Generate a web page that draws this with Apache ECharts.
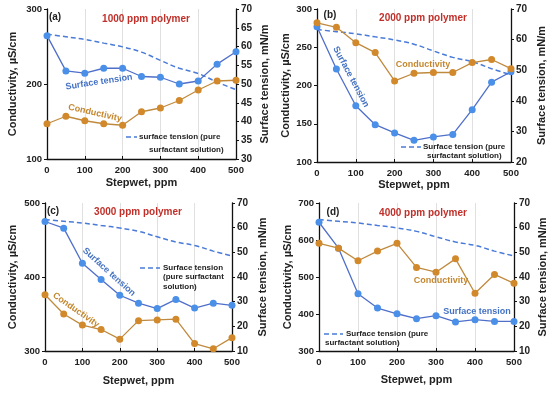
<!DOCTYPE html>
<html><head><meta charset="utf-8">
<script src="https://cdn.jsdelivr.net/npm/echarts@6/dist/echarts.min.js"></script>
<style>html,body{margin:0;padding:0;background:#fff}#c{width:550px;height:394px}</style>
</head><body><div id="c"></div>
<script>
const stepwet = [0,50,100,150,200,250,300,350,400,450,500];
const xTicks = [0,100,200,300,400,500];
const pureST = [63.3,62.6,61.9,60.9,59.9,58.5,56.3,54.2,52.8,50.5,48.5];
const condA = [147,157,151,147,145,163,168,178,192,204,205];
const stA = [62.9,53.5,52.9,54.2,54.2,52.0,51.8,50.0,50.8,55.3,58.6];
const condB = [282,276,256,243,206,216,217,217,230,234,222];
const stB = [64.2,50.4,38.4,32.2,29.5,27.1,28.2,29.0,37.1,46.1,49.5];
const condC = [376,350,335,329,316,341,342,343,310,303,318];
const stC = [62.5,59.8,45.6,39.0,32.6,29.4,27.2,30.9,27.4,29.4,28.5];
const condD = [591,578,544,570,591,526,513,549,456,507,483];
const stD = [62.2,51.7,33.2,27.4,25.1,23.1,24.3,21.8,22.7,22.0,22.0];
const titles = ['1000 ppm polymer','2000 ppm polymer','3000 ppm polymer','4000 ppm polymer'];
const tags = ['(a)','(b)','(c)','(d)'];

const FONT = 'Liberation Sans, Arial, sans-serif';
const BLUE = '#4A8FE8', BLUE_L = '#4F6FCB', ORANGE = '#D1892C', ORANGE_L = '#C08A3E', RED = '#C0302A';

const grids = [
  {left:47, top:9, width:189, height:150},
  {left:317, top:9, width:194, height:153},
  {left:45, top:203, width:187, height:148},
  {left:319, top:203, width:195, height:148}
];
const leftAx = [[100,300,100],[100,300,50],[300,500,100],[300,700,100]];
const rightAx = [[30,70,5],[20,70,10],[10,70,10],[10,70,10]];
const nameGapL = [29,26,27,26], nameGapR = [23,25,25,23], nameGapX = [18,17,24,23];
const conds = [condA,condB,condC,condD], sts = [stA,stB,stC,stD];

const xAxis = [], yAxis = [], series = [];
grids.forEach((g,i)=>{
  xAxis.push({gridIndex:i, type:'value', min:0, max:500, interval:100,
    name:'Stepwet, ppm', nameLocation:'middle', nameGap:nameGapX[i],
    nameTextStyle:{fontFamily:FONT, fontWeight:'bold', fontSize:11, color:'#222'},
    axisLine:{lineStyle:{color:'#111', width:1.3}},
    axisTick:{inside:true, length:3, lineStyle:{color:'#111'}},
    axisLabel:{fontFamily:FONT, fontWeight:'bold', fontSize:9.5, color:'#222', margin:6},
    splitLine:{show:true, lineStyle:{color:'#e0e0e0', width:1}}});
  yAxis.push({gridIndex:i, type:'value', position:'left', min:leftAx[i][0], max:leftAx[i][1], interval:leftAx[i][2],
    name:'Conductivity, µS/cm', nameLocation:'middle', nameGap:nameGapL[i],
    nameTextStyle:{fontFamily:FONT, fontWeight:'bold', fontSize:11, color:'#222'},
    axisLine:{show:true, lineStyle:{color:'#111', width:1.3}},
    axisTick:{show:true, length:3, lineStyle:{color:'#111'}},
    axisLabel:{fontFamily:FONT, fontWeight:'bold', fontSize:9.5, color:'#222', margin:5},
    splitLine:{show:false}});
  yAxis.push({gridIndex:i, type:'value', position:'right', min:rightAx[i][0], max:rightAx[i][1], interval:rightAx[i][2],
    name:'Surface tension, mN/m', nameLocation:'middle', nameGap:nameGapR[i],
    nameTextStyle:{fontFamily:FONT, fontWeight:'bold', fontSize:11, color:'#222'},
    axisLine:{show:true, lineStyle:{color:'#111', width:1.3}},
    axisTick:{show:true, length:3, lineStyle:{color:'#111'}},
    axisLabel:{fontFamily:FONT, fontWeight:'bold', fontSize:10, color:'#222', margin:5},
    splitLine:{show:false}});
  series.push({type:'line', xAxisIndex:i, yAxisIndex:2*i+1, data:stepwet.map((x,k)=>[x,pureST[k]]),
    smooth:0.4, showSymbol:false, symbol:'none', lineStyle:{color:'#4A7BD8', width:1.5, type:[5,3]}, z:1});
  series.push({type:'line', xAxisIndex:i, yAxisIndex:2*i+1, data:stepwet.map((x,k)=>[x,sts[i][k]]),
    symbol:'circle', symbolSize:7, itemStyle:{color:BLUE}, lineStyle:{color:BLUE_L, width:1.3}, z:3});
  series.push({type:'line', xAxisIndex:i, yAxisIndex:2*i, data:stepwet.map((x,k)=>[x,conds[i][k]]),
    symbol:'circle', symbolSize:7, itemStyle:{color:ORANGE}, lineStyle:{color:ORANGE_L, width:1.3}, z:3});
});

function txt(x,y,text,opt){
  opt = opt||{};
  return {type:'text', x:x, y:y, rotation:opt.rot||0, z:10,
    style:{text:text, fill:opt.color||'#222', font:'bold '+(opt.size||9)+'px '+FONT,
      align:opt.align||'center', verticalAlign:'middle'}};
}
function dash(x1,x2,y){
  return {type:'line', z:10, shape:{x1:x1,y1:y,x2:x2,y2:y}, style:{stroke:'#4A7BD8', lineWidth:1.5, lineDash:[5,3]}};
}
const deg = Math.PI/180;
const graphic = [
  txt(55,17,tags[0],{size:10}), txt(146,19,titles[0],{size:10,color:RED}),
  txt(330,15,tags[1],{size:10}), txt(423,18,titles[1],{size:10,color:RED}),
  txt(53,211,tags[2],{size:10}), txt(138,212,titles[2],{size:10,color:RED}),
  txt(333,212,tags[3],{size:10}), txt(423,213,titles[3],{size:10,color:RED}),
  txt(99,82,'Surface tension',{color:'#4472C4',rot:8.7*deg}),
  txt(95,113,'Conductivity',{color:'#C4872F',rot:-12.7*deg}),
  txt(351,77,'Surface tension',{color:'#4472C4',rot:-62*deg}),
  txt(423,65,'Conductivity',{color:'#C4872F'}),
  txt(109,272,'Surface tension',{color:'#4472C4',rot:-42*deg}),
  txt(76,310,'Conductivity',{color:'#C4872F',rot:-35*deg}),
  txt(441,281,'Conductivity',{color:'#C4872F'}),
  txt(477,312,'Surface tension',{color:'#4472C4'}),
  dash(126,137,137), txt(139,137,'surface tension (pure',{size:8,align:'left'}), txt(149,150,'surfactant solution)',{size:8,align:'left'}),
  dash(401,421,147), txt(423,147,'Surface tension (pure',{size:8,align:'left'}), txt(427,156,'surfactant solution)',{size:8,align:'left'}),
  dash(140,160,268), txt(163,268,'Surface tension',{size:8,align:'left'}), txt(163,277,'(pure surfactant',{size:8,align:'left'}), txt(163,287,'solution)',{size:8,align:'left'}),
  dash(324,343,334), txt(346,334,'Surface tension (pure',{size:8,align:'left'}), txt(325,343,'surfactant solution)',{size:8,align:'left'})
];

const chart = echarts.init(document.getElementById('c'), null, {renderer:'canvas'});
chart.setOption({animation:false, backgroundColor:'#fff', grid:grids, xAxis:xAxis, yAxis:yAxis, series:series, graphic:graphic});
</script></body></html>
